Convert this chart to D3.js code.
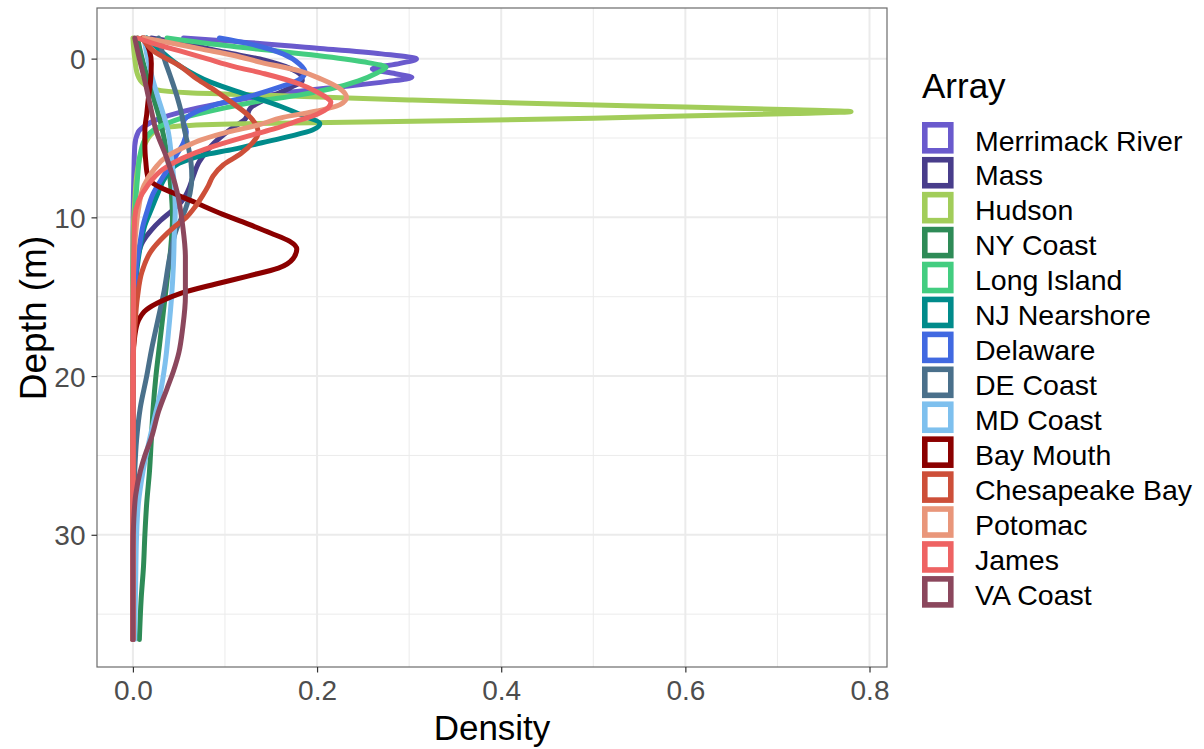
<!DOCTYPE html>
<html>
<head>
<meta charset="utf-8">
<script src="https://cdn.jsdelivr.net/npm/d3@7"></script>
<style>
  body { margin: 0; background: #fff; }
  text { font-family: "Liberation Sans", Arial, Helvetica, sans-serif; }
</style>
</head>
<body>
<svg id="chart" width="1204" height="749"></svg>
<script>
// categories (legend order = draw order)
const arrays = ['Merrimack River', 'Mass', 'Hudson', 'NY Coast', 'Long Island', 'NJ Nearshore',
  'Delaware', 'DE Coast', 'MD Coast', 'Bay Mouth', 'Chesapeake Bay', 'Potomac', 'James', 'VA Coast']
const colors = ['#6A5ACD', '#483D8B', '#A2CD5A', '#2E8B57', '#43CD80', '#008B8B',
  '#4169E1', '#4A708B', '#7EC0EE', '#8B0000', '#CD4F39', '#E9967A', '#EE6363', '#8B475D']

// density curves: [depth (m), density]
const merrimack = [[-1.3, 0.055], [-1.15, 0.094], [-0.66, 0.2], [-0.3, 0.27], [0.02, 0.308], [0.3, 0.29],
  [0.65, 0.26], [0.95, 0.285], [1.18, 0.303], [1.45, 0.275], [1.8, 0.22], [2.2, 0.16], [2.6, 0.115],
  [3.0, 0.08], [3.4, 0.05], [3.8, 0.028], [4.2, 0.014], [4.6, 0.006], [5.5, 0.002], [7.5, 0.001], [12, 0], [36.6, 0]]
const mass = [[-1.3, 0.02], [-0.9, 0.06], [-0.4, 0.1], [0.1, 0.143], [0.6, 0.17], [1.1, 0.183], [1.4, 0.184],
  [1.8, 0.172], [2.4, 0.15], [3.1, 0.128], [3.8, 0.122], [4.5, 0.105], [5.5, 0.085], [6.5, 0.072],
  [7.5, 0.065], [8.3, 0.06], [9.0, 0.053], [9.6, 0.042], [10.2, 0.03], [10.8, 0.02], [11.5, 0.011],
  [12.5, 0.005], [14, 0.002], [17, 0], [36.6, 0]]
const hudson = [[-1.3, 0], [0, 0.002], [1, 0.005], [1.6, 0.012], [1.95, 0.025], [2.15, 0.06], [2.35, 0.17],
  [2.6, 0.3], [2.85, 0.45], [3.05, 0.6], [3.22, 0.72], [3.34, 0.78], [3.45, 0.72], [3.6, 0.61], [3.75, 0.5],
  [3.9, 0.36], [4.0, 0.25], [4.1, 0.12], [4.25, 0.05], [4.5, 0.025], [5.5, 0.012], [7, 0.005], [9, 0.002],
  [12, 0], [36.6, 0]]
const nyCoast = [[-1.3, 0.005], [0, 0.01], [2, 0.02], [4, 0.03], [6, 0.037], [8, 0.041], [10, 0.043],
  [12, 0.041], [14, 0.037], [16, 0.033], [18, 0.029], [20, 0.025], [22, 0.022], [24, 0.02], [26, 0.018],
  [28, 0.015], [30, 0.013], [32, 0.0115], [34, 0.009], [36.6, 0.007]]
const longIsland = [[-1.3, 0.037], [-1.0, 0.075], [-0.6, 0.135], [-0.2, 0.2], [0.2, 0.25], [0.55, 0.275],
  [0.9, 0.265], [1.4, 0.245], [1.9, 0.215], [2.3, 0.18], [2.7, 0.135], [3.1, 0.1], [3.5, 0.07], [3.9, 0.045],
  [4.4, 0.025], [5, 0.014], [6, 0.008], [7.5, 0.005], [9, 0.003], [11, 0.001], [14, 0], [36.6, 0]]
const njNearshore = [[-1.3, 0.015], [-0.5, 0.03], [0.5, 0.052], [1.5, 0.085], [2.3, 0.125], [3.0, 0.16],
  [3.6, 0.185], [4.1, 0.203], [4.5, 0.195], [4.9, 0.17], [5.3, 0.14], [5.7, 0.11], [6.1, 0.075], [6.6, 0.05],
  [7.5, 0.035], [8.5, 0.027], [9.5, 0.02], [10.5, 0.013], [11.5, 0.009], [13, 0.005], [15, 0.002], [18, 0], [36.6, 0]]
const delaware = [[-1.3, 0.094], [-0.93, 0.127], [-0.3, 0.163], [0.35, 0.181], [0.86, 0.187], [1.3, 0.181],
  [1.8, 0.159], [2.4, 0.125], [2.9, 0.09], [3.4, 0.067], [4.0, 0.055], [4.6, 0.058], [5.3, 0.055],
  [6.0, 0.048], [6.8, 0.04], [7.6, 0.031], [8.5, 0.022], [9.5, 0.016], [10.5, 0.011], [11.5, 0.008],
  [13, 0.004], [15, 0.002], [18, 0], [36.6, 0]]
const deCoast = [[-1.3, 0.028], [0, 0.034], [1, 0.04], [2.4, 0.048], [3.5, 0.053], [4.5, 0.056], [5.5, 0.06],
  [6.5, 0.063], [7.5, 0.064], [8.5, 0.062], [9.5, 0.057], [10.8, 0.047], [12.5, 0.04], [14.6, 0.034],
  [16.5, 0.027], [18.4, 0.02], [20, 0.015], [22, 0.008], [24, 0.004], [26, 0.002], [28, 0.001], [30, 0], [36.6, 0]]
const mdCoast = [[-1.3, 0.012], [0, 0.016], [1.2, 0.021], [2.4, 0.027], [3.5, 0.033], [4.5, 0.038],
  [6.3, 0.042], [8, 0.045], [9.5, 0.046], [11, 0.045], [13, 0.044], [15, 0.042], [17, 0.039], [19.2, 0.035],
  [21, 0.03], [22.5, 0.024], [24, 0.018], [26, 0.011], [28, 0.006], [30, 0.004], [33, 0.003], [36.6, 0.002]]
const bayMouth = [[-1.3, 0.012], [-0.5, 0.018], [0.3, 0.02], [1.5, 0.019], [2.4, 0.017], [3.5, 0.015],
  [4.5, 0.013], [5.5, 0.013], [6.5, 0.014], [7.4, 0.016], [7.9, 0.023], [8.5, 0.045], [9.1, 0.069],
  [9.8, 0.097], [10.4, 0.124], [11.0, 0.15], [11.5, 0.17], [12.0, 0.178], [12.6, 0.174], [13.2, 0.158],
  [13.7, 0.125], [14.2, 0.09], [14.8, 0.051], [15.3, 0.03], [15.8, 0.015], [16.5, 0.006], [17.5, 0.002],
  [19, 0], [36.6, 0]]
const chesapeake = [[-1.3, 0.01], [-0.5, 0.022], [0.5, 0.052], [1.3, 0.07], [2.0, 0.089], [2.8, 0.108],
  [3.5, 0.124], [4.2, 0.134], [4.7, 0.136], [5.3, 0.13], [6.0, 0.117], [6.7, 0.098], [7.4, 0.087],
  [8.0, 0.082], [8.6, 0.076], [9.3, 0.068], [10.0, 0.058], [10.6, 0.045], [11.3, 0.032], [12.1, 0.02],
  [13.4, 0.01], [15, 0.005], [17, 0.002], [20, 0], [36.6, 0]]
const potomac = [[-1.3, 0.012], [-1.0, 0.04], [-0.6, 0.075], [-0.2, 0.11], [0.25, 0.14], [0.76, 0.18],
  [1.3, 0.205], [1.9, 0.225], [2.45, 0.232], [2.9, 0.225], [3.3, 0.2], [3.7, 0.163], [4.2, 0.135],
  [4.6, 0.105], [5.1, 0.075], [5.6, 0.055], [6.2, 0.036], [6.9, 0.024], [8, 0.012], [9.5, 0.006],
  [11, 0.003], [13, 0.001], [16, 0], [36.6, 0]]
const james = [[-1.3, 0.005], [-1, 0.02], [-0.5, 0.05], [0, 0.08], [0.5, 0.11], [0.95, 0.143], [1.6, 0.181],
  [2.1, 0.2], [2.45, 0.21], [2.75, 0.215], [3.1, 0.212], [3.5, 0.2], [4.0, 0.175], [4.4, 0.155], [4.8, 0.13],
  [5.5, 0.089], [6.3, 0.053], [7.0, 0.032], [8.0, 0.016], [9, 0.006], [10, 0.002], [12, 0.001], [15, 0.0005], [36.6, 0]]
const vaCoast = [[-1.3, 0.002], [0, 0.007], [1.4, 0.013], [3, 0.019], [4.5, 0.025], [6.3, 0.037], [8.4, 0.048],
  [10.5, 0.054], [12.5, 0.057], [15, 0.057], [17, 0.054], [18.5, 0.05], [19.7, 0.044], [20.8, 0.037],
  [22.2, 0.028], [23.9, 0.02], [25, 0.013], [26, 0.008], [27.5, 0.003], [29, 0.001], [31, 0], [36.6, 0]]

const seriesData = [merrimack, mass, hudson, nyCoast, longIsland, njNearshore, delaware,
  deCoast, mdCoast, bayMouth, chesapeake, potomac, james, vaCoast]

const xTicks = [0, 0.2, 0.4, 0.6, 0.8]
const xMinor = [0.1, 0.3, 0.5, 0.7]
const yTicks = [0, 10, 20, 30]
const yMinor = [5, 15, 25, 35]

const svg = d3.select('#chart')
const panel = { left: 97, top: 8, right: 887, bottom: 667 }

const x = d3.scaleLinear().domain([-0.039, 0.819]).range([panel.left, panel.right])
const y = d3.scaleLinear().domain([-3.19, 38.33]).range([panel.top, panel.bottom])

// GRID
const grid = svg.append('g')
grid.selectAll('.xminor').data(xMinor).join('line')
  .attr('x1', d => x(d)).attr('x2', d => x(d))
  .attr('y1', panel.top).attr('y2', panel.bottom)
  .attr('stroke', '#EBEBEB').attr('stroke-width', 1)
grid.selectAll('.yminor').data(yMinor).join('line')
  .attr('y1', d => y(d)).attr('y2', d => y(d))
  .attr('x1', panel.left).attr('x2', panel.right)
  .attr('stroke', '#EBEBEB').attr('stroke-width', 1)
grid.selectAll('.xmajor').data(xTicks).join('line')
  .attr('x1', d => x(d)).attr('x2', d => x(d))
  .attr('y1', panel.top).attr('y2', panel.bottom)
  .attr('stroke', '#EBEBEB').attr('stroke-width', 2)
grid.selectAll('.ymajor').data(yTicks).join('line')
  .attr('y1', d => y(d)).attr('y2', d => y(d))
  .attr('x1', panel.left).attr('x2', panel.right)
  .attr('stroke', '#EBEBEB').attr('stroke-width', 2)

// CURVES
svg.append('clipPath').attr('id', 'clip').append('rect')
  .attr('x', panel.left).attr('y', panel.top)
  .attr('width', panel.right - panel.left).attr('height', panel.bottom - panel.top)

const line = d3.line()
  .x(d => x(d[1]))
  .y(d => y(d[0]))
  .curve(d3.curveMonotoneY)

svg.append('g').attr('clip-path', 'url(#clip)')
  .selectAll('path').data(seriesData).join('path')
  .attr('d', line)
  .attr('fill', 'none')
  .attr('stroke', (d, i) => colors[i])
  .attr('stroke-width', 5)
  .attr('stroke-linejoin', 'round')
  .attr('stroke-linecap', 'round')

// PANEL BORDER
svg.append('rect')
  .attr('x', panel.left).attr('y', panel.top)
  .attr('width', panel.right - panel.left).attr('height', panel.bottom - panel.top)
  .attr('fill', 'none').attr('stroke', '#6b6b6b').attr('stroke-width', 1.2)

// AXES
const xAxis = svg.append('g')
  .attr('transform', `translate(0, ${panel.bottom})`)
  .call(d3.axisBottom(x).tickValues(xTicks).tickFormat(d3.format('.1f')).tickSize(5.5).tickPadding(6))
const yAxis = svg.append('g')
  .attr('transform', `translate(${panel.left}, 0)`)
  .call(d3.axisLeft(y).tickValues(yTicks).tickFormat(d3.format('d')).tickSize(5.5).tickPadding(6))

;[xAxis, yAxis].forEach(a => {
  a.select('.domain').remove()
  a.selectAll('.tick line').attr('stroke', '#333333').attr('stroke-width', 1.2)
  a.selectAll('.tick text').attr('fill', '#4D4D4D').style('font-size', '28px')
    .style('font-family', '"Liberation Sans", Arial, sans-serif')
})
xAxis.selectAll('.tick text').attr('dy', '0.78em')
yAxis.selectAll('.tick text').attr('dy', '0.36em')

svg.append('text')
  .attr('x', (panel.left + panel.right) / 2).attr('y', 740)
  .attr('text-anchor', 'middle').style('font-size', '35px').attr('fill', '#000')
  .text('Density')
svg.append('text')
  .attr('transform', 'translate(46, 318) rotate(-90)')
  .attr('text-anchor', 'middle').style('font-size', '37px').attr('fill', '#000')
  .text('Depth (m)')

// LEGEND
const legend = svg.append('g').attr('transform', 'translate(922, 0)')
legend.append('text').attr('x', 0).attr('y', 98)
  .style('font-size', '35px').attr('fill', '#000').text('Array')

const keys = legend.selectAll('.key').data(arrays).join('g')
  .attr('transform', (d, i) => `translate(0, ${122 + i * 34.93})`)
keys.append('rect')
  .attr('x', 2.8).attr('y', 2.8).attr('width', 26).attr('height', 26)
  .attr('fill', '#fff')
  .attr('stroke', (d, i) => colors[i]).attr('stroke-width', 5.6)
keys.append('text')
  .attr('x', 53).attr('y', 28.5)
  .style('font-size', '28.5px').attr('fill', '#000')
  .text(d => d)
</script>
</body>
</html>
